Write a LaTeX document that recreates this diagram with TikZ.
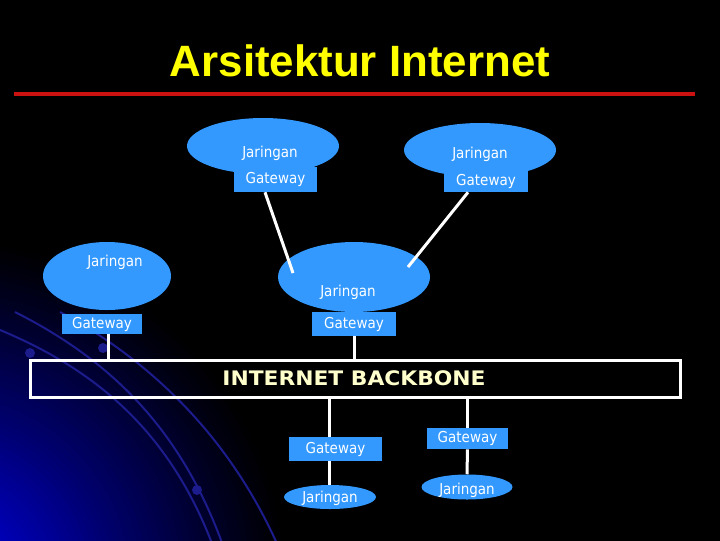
\documentclass[tikz,border=0pt]{standalone}
\usepackage{fontspec}
\setmainfont{DejaVu Sans}
\newfontfamily\titlefont{Liberation Sans}
\newfontfamily\condfont{DejaVu Sans Condensed}
\usetikzlibrary{shapes.geometric}
\definecolor{netblue}{RGB}{51,153,255}
\definecolor{titleyel}{RGB}{255,255,0}
\definecolor{cream}{RGB}{255,255,204}
\definecolor{redline}{RGB}{204,17,17}
\definecolor{arcblue}{RGB}{28,28,140}
\definecolor{glowblue}{RGB}{0,0,230}
\def\pu{0.75pt}
\begin{document}
\begin{tikzpicture}[x=0.75pt,y=-0.75pt,
  net/.style={ellipse, fill=netblue, draw=none, inner sep=0pt},
  gw/.style={rectangle, fill=netblue, draw=none, inner sep=0pt, text=white,
    font=\condfont\fontsize{11.25}{13}\selectfont},
  lbl/.style={text=white, inner sep=0pt, font=\condfont\fontsize{11.25}{13}\selectfont},
  conn/.style={draw=white, line width=2.25pt},
  arcline/.style={draw=arcblue, line width=1.5pt},
  arcdot/.style={fill=arcblue}]
\useasboundingbox (0,0) rectangle (720,540);
\begin{scope}
  \clip (-6,-6) rectangle (726,546);
  \fill[black] (-6,-6) rectangle (726,546);
  \foreach \i in {0,...,59} {
    \pgfmathsetmacro\r{350-\i*5.7}
    \pgfmathsetmacro\p{100*(\i/59)^1.1}
    \fill[glowblue!\p!black] (-60,585) circle [radius=\r];
  }
  \draw[arcline] (-20,322) .. controls (80,360) and (170,420) .. (218,560);
  \draw[arcline] (15,312) .. controls (110,360) and (185,430) .. (228,560);
  \draw[arcline] (60,312) .. controls (150,360) and (235,440) .. (284,560);
  \fill[arcdot] (30,353) circle [radius=5];
  \fill[arcdot] (103,348) circle [radius=5];
  \fill[arcdot] (197,490) circle [radius=5];
\end{scope}

% title
\node[anchor=base, text=titleyel, inner sep=0pt,
  font=\titlefont\bfseries\fontsize{32.9}{36}\selectfont] (title) at (360,76) {Arsitektur Internet};
\coordinate (rl) at (14,94);
\coordinate (rr) at (695,94);
\draw[redline, line width=3pt] (rl) -- (rr);

% top-left network
\node[net, minimum width={152*\pu}, minimum height={56*\pu}] (eTL) at (263,146) {};
\node[lbl] (tTL) at (270,153) {Jaringan};
\node[gw, minimum width={83*\pu}, minimum height={25*\pu}] (gwTL) at (275.5,179.5) {Gateway};

% top-right network
\node[net, minimum width={152*\pu}, minimum height={54*\pu}] (eTR) at (480,150) {};
\node[lbl] (tTR) at (480,154) {Jaringan};
\node[gw, minimum width={84*\pu}, minimum height={21*\pu}] (gwTR) at (486,181.5) {Gateway};

% left network
\node[net, minimum width={128*\pu}, minimum height={68*\pu}] (eL) at (107,276) {};
\node[lbl] (tL) at (115,262) {Jaringan};
\node[gw, minimum width={80*\pu}, minimum height={20*\pu}] (gwL) at (102,324) {Gateway};

% middle network
\node[net, minimum width={152*\pu}, minimum height={70*\pu}] (eM) at (354,277) {};
\node[lbl] (tM) at (348,292) {Jaringan};
\node[gw, minimum width={84*\pu}, minimum height={24*\pu}] (gwM) at (354,324) {Gateway};

% backbone
\node[draw=white, line width=2.25pt, rectangle, inner sep=0pt,
  minimum width={650*\pu}, minimum height={37*\pu}] (bb) at (355,378.5) {};
\node[text=cream, inner sep=0pt, xscale=1.09,
  font=\bfseries\fontsize{15}{17}\selectfont] (bbt) at (354,378) {INTERNET BACKBONE};

% lower networks
\node[gw, minimum width={93*\pu}, minimum height={24*\pu}] (gwLL) at (335.5,449) {Gateway};
\node[net, minimum width={92*\pu}, minimum height={24*\pu}] (eLL) at (330,497) {};
\node[lbl] (tLL) at (330,498) {Jaringan};
\node[gw, minimum width={81*\pu}, minimum height={21*\pu}] (gwLR) at (467.5,438.5) {Gateway};
\node[net, minimum width={91*\pu}, minimum height={25*\pu}] (eLR) at (467,487) {};
\node[lbl] (tLR) at (467,490) {Jaringan};

% connectors
\coordinate (mTL) at (293,273);
\coordinate (mTR) at (408,267);
\coordinate (xL) at (108,0);
\coordinate (xLL) at (329,0);
\draw[conn] ([xshift={-10.5*\pu}]gwTL.south) -- (mTL);
\draw[conn] ([xshift={-18*\pu}]gwTR.south) -- (mTR);
\draw[conn] (gwL.south -| xL) -- (bb.north -| xL);
\draw[conn] (gwM.south) -- (bb.north -| gwM.south);
\draw[conn] (bb.south -| xLL) -- (gwLL.north -| xLL);
\draw[conn] (gwLL.south -| xLL) -- (eLL.north -| xLL);
\draw[conn] (bb.south -| gwLR.north) -- (gwLR.north);
\draw[conn] (gwLR.south) -- (eLR.north);
\end{tikzpicture}
\end{document}
